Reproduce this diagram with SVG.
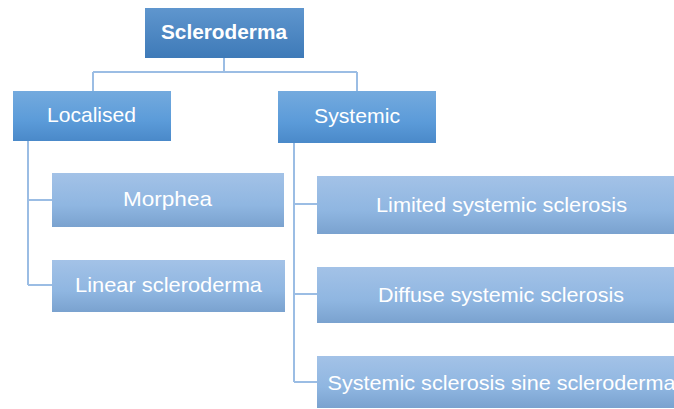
<svg xmlns="http://www.w3.org/2000/svg" width="674" height="409" viewBox="0 0 674 409">
<defs>
<linearGradient id="gTop" x1="0" y1="0" x2="0" y2="1">
<stop offset="0" stop-color="#5f96ce"/><stop offset="1" stop-color="#3e7ab8"/>
</linearGradient>
<linearGradient id="gMid" x1="0" y1="0" x2="0" y2="1">
<stop offset="0" stop-color="#74aade"/><stop offset="0.6" stop-color="#5b9bd9"/><stop offset="1" stop-color="#4a89c9"/>
</linearGradient>
<linearGradient id="gLeaf" x1="0" y1="0" x2="0" y2="1">
<stop offset="0" stop-color="#a3c2e7"/><stop offset="0.6" stop-color="#8fb6e1"/><stop offset="1" stop-color="#7aa2cf"/>
</linearGradient>
</defs>
<style>
.t{font-family:"Liberation Sans",Arial,sans-serif;fill:#fff;text-anchor:middle;font-size:21px}
.b{font-weight:bold}
.c{fill:none;stroke:#9bbde4;stroke-width:2}
</style>
<g id="connectors">
<path class="c" d="M224 58V72M93 72H357M93 72V91M357 72V91"/>
<path class="c" d="M28 141V285M28 200H52M28 285H52"/>
<path class="c" d="M294 143V382M294 204H317M294 294H317M294 382H317"/>
</g>
<g id="n-scleroderma">
<rect x="145" y="8" width="159" height="50" fill="url(#gTop)"/>
<text class="t b" x="224" y="38.5" textLength="126" lengthAdjust="spacingAndGlyphs">Scleroderma</text>
</g>
<g id="n-localised">
<rect x="13" y="91" width="158" height="50" fill="url(#gMid)"/>
<text class="t" x="91.5" y="122" textLength="89" lengthAdjust="spacingAndGlyphs">Localised</text>
</g>
<g id="n-systemic">
<rect x="278" y="91" width="158" height="52" fill="url(#gMid)"/>
<text class="t" x="357" y="123" textLength="86" lengthAdjust="spacingAndGlyphs">Systemic</text>
</g>
<g id="n-morphea">
<rect x="52" y="173" width="232" height="54" fill="url(#gLeaf)"/>
<text class="t" x="167.5" y="206" textLength="89" lengthAdjust="spacingAndGlyphs">Morphea</text>
</g>
<g id="n-linear">
<rect x="52" y="260" width="233" height="52" fill="url(#gLeaf)"/>
<text class="t" x="168.5" y="292" textLength="187" lengthAdjust="spacingAndGlyphs">Linear scleroderma</text>
</g>
<g id="n-limited">
<rect x="317" y="176" width="369" height="58" fill="url(#gLeaf)"/>
<text class="t" x="501.5" y="212" textLength="251" lengthAdjust="spacingAndGlyphs">Limited systemic sclerosis</text>
</g>
<g id="n-diffuse">
<rect x="317" y="267" width="369" height="56" fill="url(#gLeaf)"/>
<text class="t" x="501" y="302" textLength="246" lengthAdjust="spacingAndGlyphs">Diffuse systemic sclerosis</text>
</g>
<g id="n-sine">
<rect x="317" y="356" width="369" height="52" fill="url(#gLeaf)"/>
<text class="t" x="501.5" y="390" textLength="348" lengthAdjust="spacingAndGlyphs">Systemic sclerosis sine scleroderma</text>
</g>
</svg>
